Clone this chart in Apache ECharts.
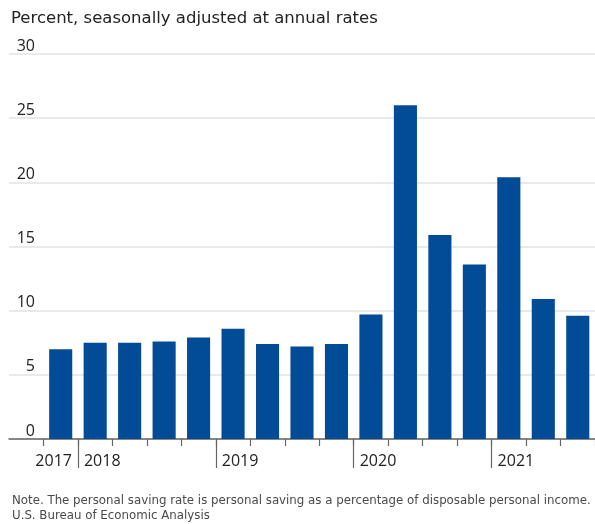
<!DOCTYPE html>
<html>
<head>
<meta charset="utf-8">
<script src="https://cdn.jsdelivr.net/npm/echarts@6/dist/echarts.min.js"></script>
<style>
  html, body { margin: 0; padding: 0; background: #ffffff; }
  #chart { width: 595px; height: 524px; }
</style>
</head>
<body>
<div id="chart"></div>
<script>
// ---- data ----
var quarters = ['2017 Q4',
  '2018 Q1', '2018 Q2', '2018 Q3', '2018 Q4',
  '2019 Q1', '2019 Q2', '2019 Q3', '2019 Q4',
  '2020 Q1', '2020 Q2', '2020 Q3', '2020 Q4',
  '2021 Q1', '2021 Q2', '2021 Q3'];
var savingRate = [7.0, 7.5, 7.5, 7.6, 7.9, 8.6, 7.4, 7.2, 7.4, 9.7, 26.0, 15.9, 13.6, 20.4, 10.9, 9.6];
var yTicks = [0, 5, 10, 15, 20, 25, 30];
var titleText = 'Percent, seasonally adjusted at annual rates';
var noteText = 'Note. The personal saving rate is personal saving as a percentage of disposable personal income.';
var sourceText = 'U.S. Bureau of Economic Analysis';

// ---- derived: band boundaries (one empty band before the first quarter) ----
var boundaries = ['start'];
quarters.forEach(function (q) { boundaries.push(q); });
boundaries.push('end');
function yearStartBoundary(k) {
  var q = boundaries[k];
  return k >= 1 && k <= quarters.length && /Q1$/.test(q);
}
function yearOf(k) { return boundaries[k].slice(0, 4); }
var firstYear = quarters[0].slice(0, 4);
var firstYearEnd = -1;
for (var k = 1; k < boundaries.length; k++) { if (yearStartBoundary(k)) { firstYearEnd = k; break; } }

var FONT = 'Open Sans';
var TFONT = 'DejaVu Sans';
var chart = echarts.init(document.getElementById('chart'), null, { renderer: 'canvas' });
var option = {
  animation: false,
  backgroundColor: '#ffffff',
  textStyle: { fontFamily: FONT },
  title: [{
    text: titleText,
    left: 6, top: 5,
    textStyle: { fontFamily: TFONT, fontSize: 16.5, fontWeight: 'normal', color: '#222222' }
  }, {
    text: noteText + '\n' + sourceText,
    left: 7, top: 488,
    textStyle: { fontFamily: TFONT, fontSize: 11.8, fontWeight: 'normal', color: '#4a4a4a', lineHeight: 15 }
  }],
  grid: { left: 9, right: 0, top: 54, bottom: 85, containLabel: false },
  xAxis: [{
    type: 'category',
    data: quarters,
    min: -1,
    position: 'bottom',
    boundaryGap: true,
    axisLine: { show: true, lineStyle: { color: '#666666', width: 1.5 } },
    axisTick: { show: false },
    axisLabel: { show: false },
    splitLine: { show: false }
  }, {
    type: 'category',
    data: boundaries,
    position: 'bottom',
    boundaryGap: false,
    axisLine: { show: false },
    axisTick: { show: true, interval: function (i) { return i >= 1; }, length: 7, lineStyle: { color: '#666666', width: 1.2 } },
    axisLabel: { show: false },
    splitLine: { show: false }
  }, {
    type: 'category',
    data: boundaries,
    position: 'bottom',
    boundaryGap: false,
    axisLine: { show: false },
    axisTick: { show: true, interval: function (i) { return yearStartBoundary(i); }, length: 29, lineStyle: { color: '#666666', width: 1.2 } },
    axisLabel: {
      show: true,
      interval: function (i) { return yearStartBoundary(i); },
      formatter: function (v, i) { return yearOf(i); },
      align: 'left', padding: [0, 0, 0, 6], margin: 14,
      fontFamily: FONT, fontSize: 16, color: '#222222'
    },
    splitLine: { show: false }
  }, {
    type: 'category',
    data: boundaries,
    position: 'bottom',
    boundaryGap: false,
    axisLine: { show: false },
    axisTick: { show: false },
    axisLabel: {
      show: true,
      interval: function (i) { return i === firstYearEnd; },
      formatter: function () { return firstYear; },
      align: 'right', padding: [0, 6, 0, 0], margin: 14,
      fontFamily: FONT, fontSize: 16, color: '#222222'
    },
    splitLine: { show: false }
  }],
  yAxis: {
    type: 'value',
    min: yTicks[0], max: yTicks[yTicks.length - 1], interval: yTicks[1] - yTicks[0],
    axisLine: { show: false },
    axisTick: { show: false },
    splitLine: { show: true, lineStyle: { color: '#e2e2e2', width: 1.5 } },
    axisLabel: {
      inside: true, margin: 26, align: 'right', verticalAlign: 'bottom',
      fontFamily: FONT, fontSize: 16, color: '#222222', lineHeight: 16
    }
  },
  series: [{
    type: 'bar',
    xAxisIndex: 0,
    data: savingRate,
    barWidth: '67%',
    itemStyle: { color: '#024b96' }
  }]
};
chart.setOption(option);
</script>
</body>
</html>
